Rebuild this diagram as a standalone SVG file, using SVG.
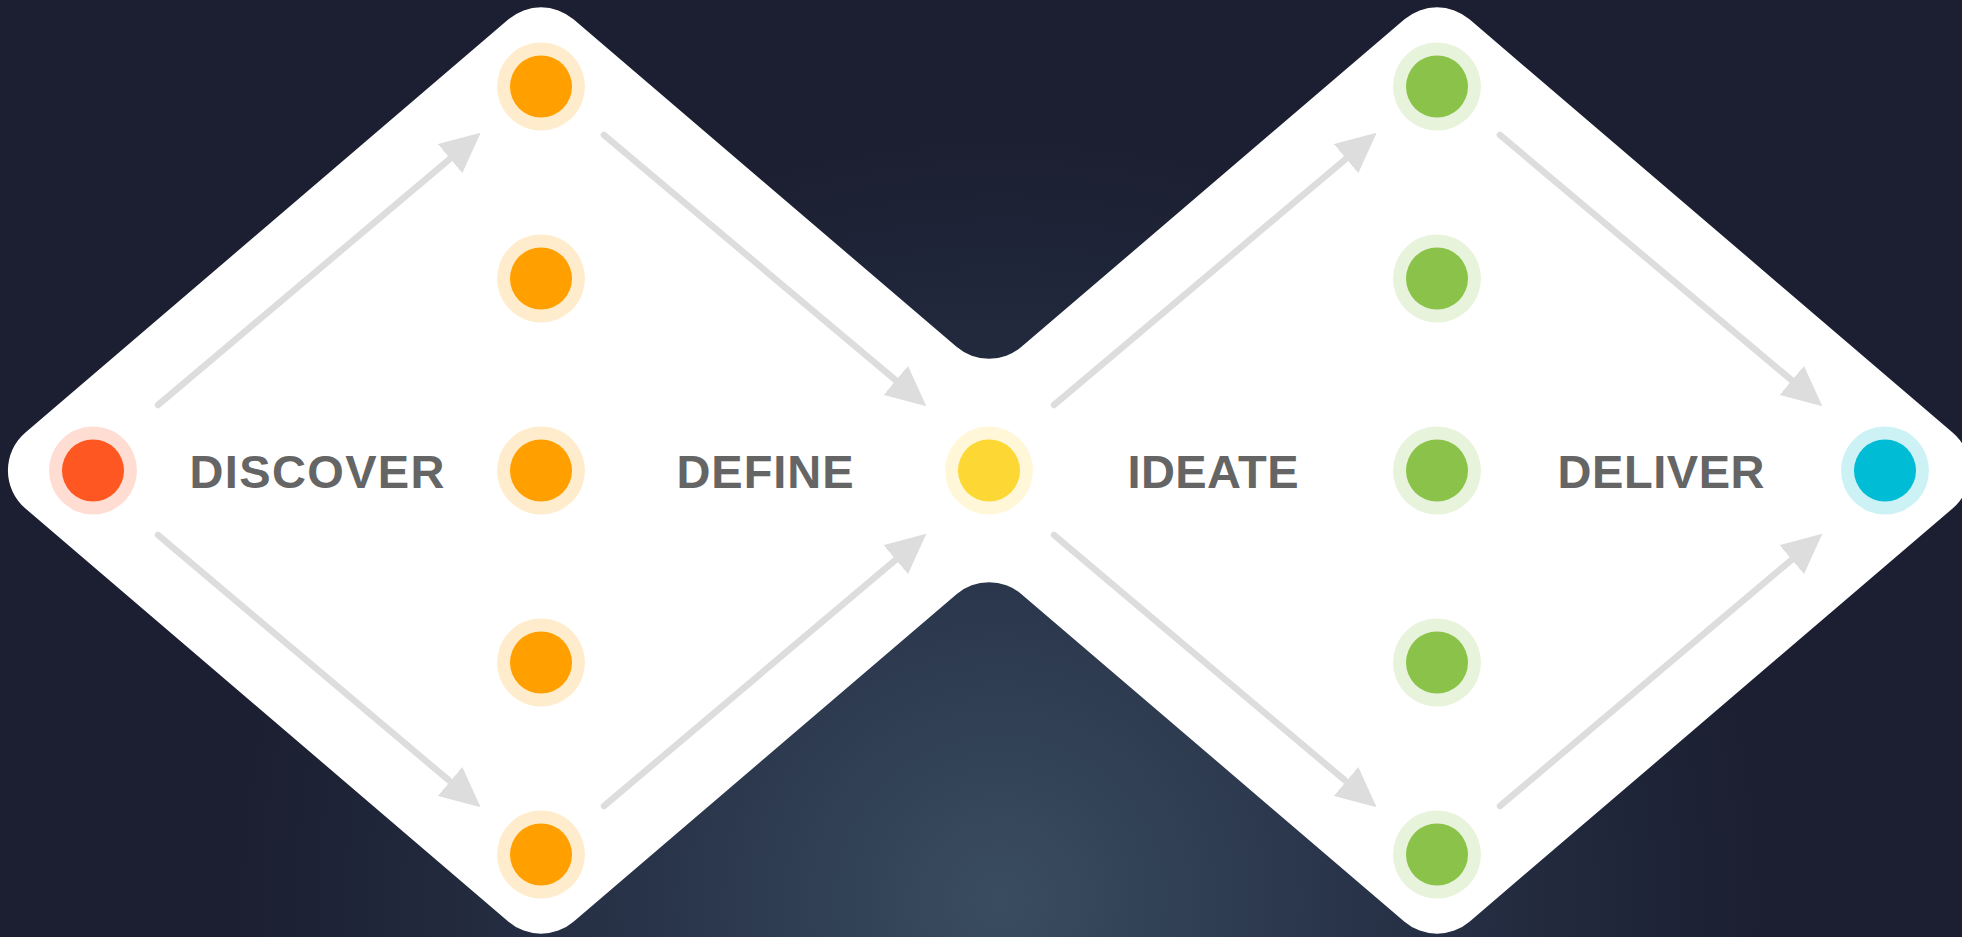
<svg xmlns="http://www.w3.org/2000/svg" width="1962" height="937" viewBox="0 0 1962 937">
  <defs>
    <radialGradient id="bg" gradientUnits="userSpaceOnUse" cx="1000" cy="900" r="760">
      <stop offset="0" stop-color="#3a4d60"/>
      <stop offset="0.45" stop-color="#29344a"/>
      <stop offset="1" stop-color="#1b1f31"/>
    </radialGradient>
    <marker id="ah" markerUnits="userSpaceOnUse" markerWidth="40" markerHeight="38" viewBox="0 0 38 36" refX="4" refY="18" orient="auto">
      <path d="M0,0 L38,18 L0,36 Z" fill="#dddddd"/>
    </marker>
    <style>
      .halo { fill-opacity: 0.2; }
      .lbl { font-family: "Liberation Sans", Arial, sans-serif; font-weight: 700; font-size: 47px; fill: #656565; text-anchor: middle; }
      .arr { stroke: #dddddd; stroke-width: 6.5; stroke-linecap: round; fill: none; marker-end: url(#ah); }
    </style>
  </defs>
  <rect width="1962" height="937" fill="url(#bg)"/>
  <g id="shape">
    <path fill="#ffffff" d="M25.45,432.47 L508.51,19.29 A50,50 0 0 1 573.49,19.29 L956.51,346.81 A50,50 0 0 0 1021.49,346.81 L1404.51,19.29 A50,50 0 0 1 1469.49,19.29 L1952.55,432.47 A50,50 0 0 1 1952.55,508.53 L1469.49,921.71 A50,50 0 0 1 1404.51,921.71 L1021.49,594.19 A50,50 0 0 0 956.51,594.19 L573.49,921.71 A50,50 0 0 1 508.51,921.71 L25.45,508.53 A50,50 0 0 1 25.45,432.47 Z"/>
  </g>
  <g id="connectors">
    <line class="arr" x1="158" y1="405" x2="453.3" y2="155.9"/>
    <line class="arr" x1="158" y1="535" x2="453.3" y2="784.1"/>
    <line class="arr" x1="604" y1="135" x2="899" y2="383.1"/>
    <line class="arr" x1="604" y1="806" x2="899" y2="556.9"/>
    <line class="arr" x1="1054" y1="405" x2="1349.3" y2="155.9"/>
    <line class="arr" x1="1054" y1="535" x2="1349.3" y2="784.1"/>
    <line class="arr" x1="1500" y1="135" x2="1795" y2="383.1"/>
    <line class="arr" x1="1500" y1="806" x2="1795" y2="556.9"/>
  </g>
  <g id="start"><circle class="halo" cx="93" cy="470.5" r="44" fill="#FF5722"/><circle cx="93" cy="470.5" r="31" fill="#FF5722"/></g>
  <g id="orange1"><circle class="halo" cx="541" cy="86.5" r="44" fill="#FFA000"/><circle cx="541" cy="86.5" r="31" fill="#FFA000"/></g>
  <g id="orange2"><circle class="halo" cx="541" cy="278.5" r="44" fill="#FFA000"/><circle cx="541" cy="278.5" r="31" fill="#FFA000"/></g>
  <g id="orange3"><circle class="halo" cx="541" cy="470.5" r="44" fill="#FFA000"/><circle cx="541" cy="470.5" r="31" fill="#FFA000"/></g>
  <g id="orange4"><circle class="halo" cx="541" cy="662.5" r="44" fill="#FFA000"/><circle cx="541" cy="662.5" r="31" fill="#FFA000"/></g>
  <g id="orange5"><circle class="halo" cx="541" cy="854.5" r="44" fill="#FFA000"/><circle cx="541" cy="854.5" r="31" fill="#FFA000"/></g>
  <g id="middle"><circle class="halo" cx="989" cy="470.5" r="44" fill="#FDD835"/><circle cx="989" cy="470.5" r="31" fill="#FDD835"/></g>
  <g id="green1"><circle class="halo" cx="1437" cy="86.5" r="44" fill="#8BC34A"/><circle cx="1437" cy="86.5" r="31" fill="#8BC34A"/></g>
  <g id="green2"><circle class="halo" cx="1437" cy="278.5" r="44" fill="#8BC34A"/><circle cx="1437" cy="278.5" r="31" fill="#8BC34A"/></g>
  <g id="green3"><circle class="halo" cx="1437" cy="470.5" r="44" fill="#8BC34A"/><circle cx="1437" cy="470.5" r="31" fill="#8BC34A"/></g>
  <g id="green4"><circle class="halo" cx="1437" cy="662.5" r="44" fill="#8BC34A"/><circle cx="1437" cy="662.5" r="31" fill="#8BC34A"/></g>
  <g id="green5"><circle class="halo" cx="1437" cy="854.5" r="44" fill="#8BC34A"/><circle cx="1437" cy="854.5" r="31" fill="#8BC34A"/></g>
  <g id="end"><circle class="halo" cx="1885" cy="470.5" r="44" fill="#00BCD4"/><circle cx="1885" cy="470.5" r="31" fill="#00BCD4"/></g>
  <g id="labels">
    <text class="lbl" x="317" y="488" textLength="255" lengthAdjust="spacing">DISCOVER</text>
    <text class="lbl" x="765" y="488" textLength="177" lengthAdjust="spacing">DEFINE</text>
    <text class="lbl" x="1213" y="488" textLength="171" lengthAdjust="spacing">IDEATE</text>
    <text class="lbl" x="1661" y="488" textLength="207" lengthAdjust="spacing">DELIVER</text>
  </g>
</svg>
